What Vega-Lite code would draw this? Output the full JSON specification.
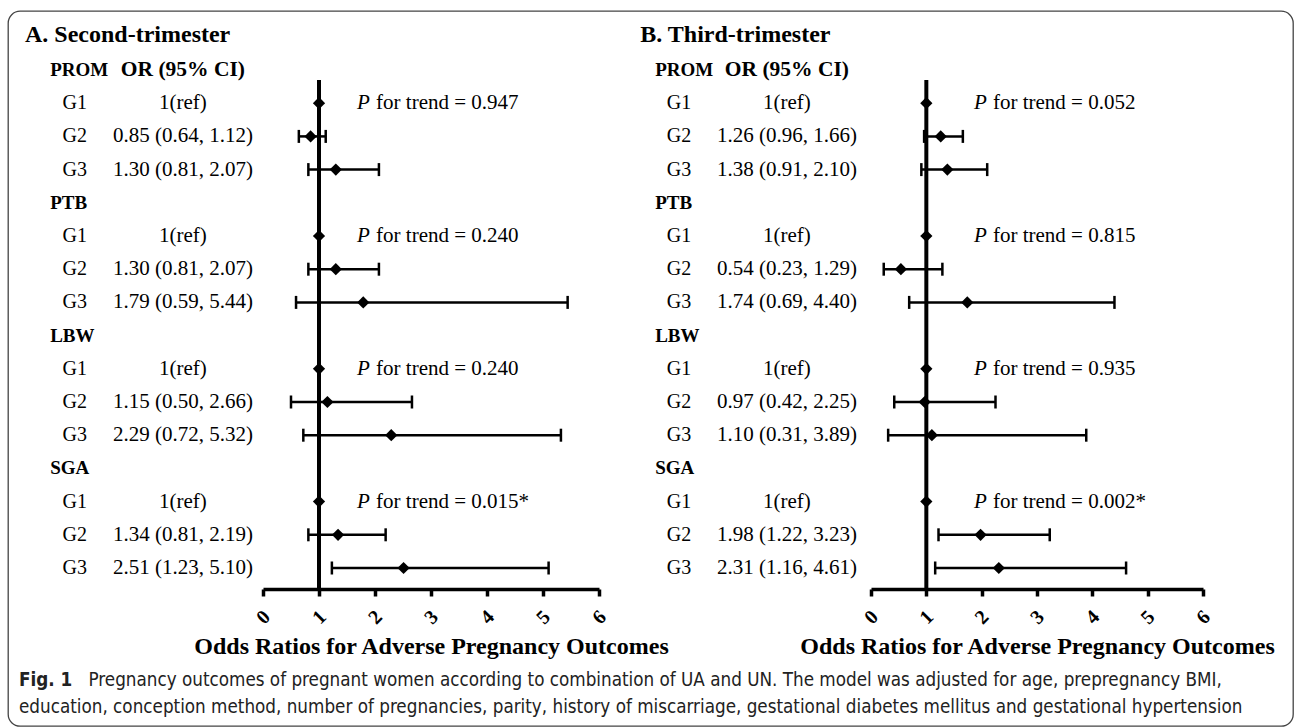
{
  "$schema": "https://vega.github.io/schema/vega-lite/v6.json",
  "width": 1295,
  "height": 728,
  "autosize": {"type": "fit", "contains": "padding"},
  "padding": {"left": 8, "top": 11, "right": 2, "bottom": 2},
  "background": "white",
  "config": {
    "view": {"stroke": "#444", "strokeWidth": 1.3, "cornerRadius": 12},
    "text": {"font": "Liberation Serif", "color": "#000"}
  },
  "title": {
    "text": "Fig. 1",
    "subtitle": "education, conception method, number of pregnancies, parity, history of miscarriage, gestational diabetes mellitus and gestational hypertension",
    "orient": "bottom",
    "anchor": "start",
    "frame": "group",
    "offset": -55,
    "dx": 11,
    "font": "DejaVu Sans Condensed, Roboto, sans-serif",
    "fontSize": 18.7,
    "fontWeight": "bold",
    "color": "#222",
    "subtitleFont": "DejaVu Sans Condensed, Roboto, sans-serif",
    "subtitleFontSize": 18.7,
    "subtitleColor": "#222",
    "subtitlePadding": 8
  },
  "datasets": {
    "est": [
      {"panel": "A", "outcome": "PROM", "group": "G1", "row": 1, "or": 1, "lo": null, "hi": null, "ci": "1(ref)", "ptext": "for trend = 0.947"},
      {"panel": "A", "outcome": "PROM", "group": "G2", "row": 2, "or": 0.85, "lo": 0.64, "hi": 1.12, "ci": "0.85 (0.64, 1.12)", "ptext": null},
      {"panel": "A", "outcome": "PROM", "group": "G3", "row": 3, "or": 1.30, "lo": 0.81, "hi": 2.07, "ci": "1.30 (0.81, 2.07)", "ptext": null},
      {"panel": "A", "outcome": "PTB", "group": "G1", "row": 5, "or": 1, "lo": null, "hi": null, "ci": "1(ref)", "ptext": "for trend = 0.240"},
      {"panel": "A", "outcome": "PTB", "group": "G2", "row": 6, "or": 1.30, "lo": 0.81, "hi": 2.07, "ci": "1.30 (0.81, 2.07)", "ptext": null},
      {"panel": "A", "outcome": "PTB", "group": "G3", "row": 7, "or": 1.79, "lo": 0.59, "hi": 5.44, "ci": "1.79 (0.59, 5.44)", "ptext": null},
      {"panel": "A", "outcome": "LBW", "group": "G1", "row": 9, "or": 1, "lo": null, "hi": null, "ci": "1(ref)", "ptext": "for trend = 0.240"},
      {"panel": "A", "outcome": "LBW", "group": "G2", "row": 10, "or": 1.15, "lo": 0.50, "hi": 2.66, "ci": "1.15 (0.50, 2.66)", "ptext": null},
      {"panel": "A", "outcome": "LBW", "group": "G3", "row": 11, "or": 2.29, "lo": 0.72, "hi": 5.32, "ci": "2.29 (0.72, 5.32)", "ptext": null},
      {"panel": "A", "outcome": "SGA", "group": "G1", "row": 13, "or": 1, "lo": null, "hi": null, "ci": "1(ref)", "ptext": "for trend = 0.015*"},
      {"panel": "A", "outcome": "SGA", "group": "G2", "row": 14, "or": 1.34, "lo": 0.81, "hi": 2.19, "ci": "1.34 (0.81, 2.19)", "ptext": null},
      {"panel": "A", "outcome": "SGA", "group": "G3", "row": 15, "or": 2.51, "lo": 1.23, "hi": 5.10, "ci": "2.51 (1.23, 5.10)", "ptext": null},
      {"panel": "B", "outcome": "PROM", "group": "G1", "row": 1, "or": 1, "lo": null, "hi": null, "ci": "1(ref)", "ptext": "for trend = 0.052"},
      {"panel": "B", "outcome": "PROM", "group": "G2", "row": 2, "or": 1.26, "lo": 0.96, "hi": 1.66, "ci": "1.26 (0.96, 1.66)", "ptext": null},
      {"panel": "B", "outcome": "PROM", "group": "G3", "row": 3, "or": 1.38, "lo": 0.91, "hi": 2.10, "ci": "1.38 (0.91, 2.10)", "ptext": null},
      {"panel": "B", "outcome": "PTB", "group": "G1", "row": 5, "or": 1, "lo": null, "hi": null, "ci": "1(ref)", "ptext": "for trend = 0.815"},
      {"panel": "B", "outcome": "PTB", "group": "G2", "row": 6, "or": 0.54, "lo": 0.23, "hi": 1.29, "ci": "0.54 (0.23, 1.29)", "ptext": null},
      {"panel": "B", "outcome": "PTB", "group": "G3", "row": 7, "or": 1.74, "lo": 0.69, "hi": 4.40, "ci": "1.74 (0.69, 4.40)", "ptext": null},
      {"panel": "B", "outcome": "LBW", "group": "G1", "row": 9, "or": 1, "lo": null, "hi": null, "ci": "1(ref)", "ptext": "for trend = 0.935"},
      {"panel": "B", "outcome": "LBW", "group": "G2", "row": 10, "or": 0.97, "lo": 0.42, "hi": 2.25, "ci": "0.97 (0.42, 2.25)", "ptext": null},
      {"panel": "B", "outcome": "LBW", "group": "G3", "row": 11, "or": 1.10, "lo": 0.31, "hi": 3.89, "ci": "1.10 (0.31, 3.89)", "ptext": null},
      {"panel": "B", "outcome": "SGA", "group": "G1", "row": 13, "or": 1, "lo": null, "hi": null, "ci": "1(ref)", "ptext": "for trend = 0.002*"},
      {"panel": "B", "outcome": "SGA", "group": "G2", "row": 14, "or": 1.98, "lo": 1.22, "hi": 3.23, "ci": "1.98 (1.22, 3.23)", "ptext": null},
      {"panel": "B", "outcome": "SGA", "group": "G3", "row": 15, "or": 2.31, "lo": 1.16, "hi": 4.61, "ci": "2.31 (1.16, 4.61)", "ptext": null}
    ],
    "hdr": [
      {"panel": "A", "outcome": "PROM", "row": 0, "colhdr": "OR (95% CI)"},
      {"panel": "A", "outcome": "PTB", "row": 4, "colhdr": ""},
      {"panel": "A", "outcome": "LBW", "row": 8, "colhdr": ""},
      {"panel": "A", "outcome": "SGA", "row": 12, "colhdr": ""},
      {"panel": "B", "outcome": "PROM", "row": 0, "colhdr": "OR (95% CI)"},
      {"panel": "B", "outcome": "PTB", "row": 4, "colhdr": ""},
      {"panel": "B", "outcome": "LBW", "row": 8, "colhdr": ""},
      {"panel": "B", "outcome": "SGA", "row": 12, "colhdr": ""}
    ],
    "panels": [
      {"panel": "A", "title": "A. Second-trimester", "ref": 1},
      {"panel": "B", "title": "B. Third-trimester", "ref": 1}
    ]
  },
  "resolve": {"scale": {"x": "independent"}, "axis": {"x": "independent"}},
  "layer": [
    {
      "layer": [
        {
          "data": {"name": "panels"},
          "transform": [{"filter": "datum.panel === 'A'"}],
          "mark": {"type": "rule", "strokeWidth": 4, "color": "#000"},
          "encoding": {
            "x": {"field": "ref", "type": "quantitative",
              "scale": {"domain": [0, 6], "range": [255, 591], "nice": false, "zero": false},
              "axis": {"values": [0, 1, 2, 3, 4, 5, 6], "format": "d", "orient": "bottom", "offset": -137, "grid": false,
                "domainColor": "#000", "domainWidth": 3.5, "tickColor": "#000", "tickWidth": 3.5, "tickSize": 7,
                "labelFont": "Liberation Serif", "labelFontWeight": "bold", "labelFontSize": 20, "labelColor": "#000",
                "labelAngle": -45, "labelAlign": "center", "labelBaseline": "middle", "labelPadding": 21, "labelFlush": false, "labelOverlap": false,
                "title": "Odds Ratios for Adverse Pregnancy Outcomes", "titleFont": "Liberation Serif", "titleFontSize": 24, "titleFontWeight": "bold", "titleColor": "#000",
                "titleY": 64, "titleBaseline": "alphabetic"}},
            "y": {"datum": 0.3, "type": "quantitative",
              "scale": {"domain": [0, 15], "range": [59, 557], "nice": false, "zero": false},
              "axis": {"orient": "left", "labels": false, "ticks": false, "domain": false, "grid": false,
                "title": "Pregnancy outcomes of pregnant women according to combination of UA and UN. The model was adjusted for age, prepregnancy BMI,",
                "titleAngle": 0, "titleAlign": "left", "titleBaseline": "alphabetic", "titleX": 80, "titleY": 674,
                "titleFont": "DejaVu Sans Condensed, Roboto, sans-serif", "titleFontSize": 18.7, "titleFontWeight": "normal", "titleColor": "#222"}},
            "y2": {"datum": 15.63}
          }
        },
        {
          "data": {"name": "est"},
          "transform": [{"filter": "datum.panel === 'A' && datum.lo != null"}],
          "mark": {"type": "rule", "strokeWidth": 2.5, "color": "#000"},
          "encoding": {"x": {"field": "lo", "type": "quantitative"}, "x2": {"field": "hi"}, "y": {"field": "row", "type": "quantitative"}}
        },
        {
          "data": {"name": "est"},
          "transform": [{"filter": "datum.panel === 'A' && datum.lo != null"}],
          "mark": {"type": "tick", "orient": "vertical", "size": 13, "thickness": 2.5, "color": "#000", "opacity": 1},
          "encoding": {"x": {"field": "lo", "type": "quantitative"}, "y": {"field": "row", "type": "quantitative"}}
        },
        {
          "data": {"name": "est"},
          "transform": [{"filter": "datum.panel === 'A' && datum.lo != null"}],
          "mark": {"type": "tick", "orient": "vertical", "size": 13, "thickness": 2.5, "color": "#000", "opacity": 1},
          "encoding": {"x": {"field": "hi", "type": "quantitative"}, "y": {"field": "row", "type": "quantitative"}}
        },
        {
          "data": {"name": "est"},
          "transform": [{"filter": "datum.panel === 'A'"}],
          "mark": {"type": "point", "shape": "diamond", "filled": true, "size": 150, "color": "#000", "opacity": 1},
          "encoding": {"x": {"field": "or", "type": "quantitative"}, "y": {"field": "row", "type": "quantitative"}}
        },
        {
          "data": {"name": "est"},
          "transform": [{"filter": "datum.panel === 'A'"}],
          "mark": {"type": "text", "fontSize": 20, "align": "center", "baseline": "middle"},
          "encoding": {"x": {"datum": -3.36, "type": "quantitative"}, "y": {"field": "row", "type": "quantitative"}, "text": {"field": "group"}}
        },
        {
          "data": {"name": "est"},
          "transform": [{"filter": "datum.panel === 'A'"}],
          "mark": {"type": "text", "fontSize": 21, "align": "center", "baseline": "middle"},
          "encoding": {"x": {"datum": -1.43, "type": "quantitative"}, "y": {"field": "row", "type": "quantitative"}, "text": {"field": "ci"}}
        },
        {
          "data": {"name": "est"},
          "transform": [{"filter": "datum.panel === 'A' && datum.ptext != null"}],
          "mark": {"type": "text", "fontSize": 21, "align": "left", "baseline": "middle", "fontStyle": "italic", "text": "P"},
          "encoding": {"x": {"datum": 1.68, "type": "quantitative"}, "y": {"field": "row", "type": "quantitative"}}
        },
        {
          "data": {"name": "est"},
          "transform": [{"filter": "datum.panel === 'A' && datum.ptext != null"}],
          "mark": {"type": "text", "fontSize": 21, "align": "left", "baseline": "middle", "dx": 19},
          "encoding": {"x": {"datum": 1.68, "type": "quantitative"}, "y": {"field": "row", "type": "quantitative"}, "text": {"field": "ptext"}}
        },
        {
          "data": {"name": "hdr"},
          "transform": [{"filter": "datum.panel === 'A'"}],
          "mark": {"type": "text", "fontSize": 19, "fontWeight": "bold", "align": "left", "baseline": "middle"},
          "encoding": {"x": {"datum": -3.8, "type": "quantitative"}, "y": {"field": "row", "type": "quantitative"}, "text": {"field": "outcome"}}
        },
        {
          "data": {"name": "hdr"},
          "transform": [{"filter": "datum.panel === 'A'"}],
          "mark": {"type": "text", "fontSize": 21.5, "fontWeight": "bold", "align": "center", "baseline": "middle"},
          "encoding": {"x": {"datum": -1.43, "type": "quantitative"}, "y": {"field": "row", "type": "quantitative"}, "text": {"field": "colhdr"}}
        },
        {
          "data": {"name": "panels"},
          "transform": [{"filter": "datum.panel === 'A'"}],
          "mark": {"type": "text", "fontSize": 24, "fontWeight": "bold", "align": "left", "baseline": "middle"},
          "encoding": {"x": {"datum": -4.25, "type": "quantitative"}, "y": {"datum": -1.05, "type": "quantitative"}, "text": {"field": "title"}}
        }
      ]
    },
    {
      "layer": [
        {
          "data": {"name": "panels"},
          "transform": [{"filter": "datum.panel === 'B'"}],
          "mark": {"type": "rule", "strokeWidth": 4, "color": "#000"},
          "encoding": {
            "x": {"field": "ref", "type": "quantitative",
              "scale": {"domain": [0, 6], "range": [863, 1195], "nice": false, "zero": false},
              "axis": {"values": [0, 1, 2, 3, 4, 5, 6], "format": "d", "orient": "bottom", "offset": -137, "grid": false,
                "domainColor": "#000", "domainWidth": 3.5, "tickColor": "#000", "tickWidth": 3.5, "tickSize": 7,
                "labelFont": "Liberation Serif", "labelFontWeight": "bold", "labelFontSize": 20, "labelColor": "#000",
                "labelAngle": -45, "labelAlign": "center", "labelBaseline": "middle", "labelPadding": 21, "labelFlush": false, "labelOverlap": false,
                "title": "Odds Ratios for Adverse Pregnancy Outcomes", "titleFont": "Liberation Serif", "titleFontSize": 24, "titleFontWeight": "bold", "titleColor": "#000",
                "titleY": 64, "titleBaseline": "alphabetic"}},
            "y": {"datum": 0.3, "type": "quantitative"},
            "y2": {"datum": 15.63}
          }
        },
        {
          "data": {"name": "est"},
          "transform": [{"filter": "datum.panel === 'B' && datum.lo != null"}],
          "mark": {"type": "rule", "strokeWidth": 2.5, "color": "#000"},
          "encoding": {"x": {"field": "lo", "type": "quantitative"}, "x2": {"field": "hi"}, "y": {"field": "row", "type": "quantitative"}}
        },
        {
          "data": {"name": "est"},
          "transform": [{"filter": "datum.panel === 'B' && datum.lo != null"}],
          "mark": {"type": "tick", "orient": "vertical", "size": 13, "thickness": 2.5, "color": "#000", "opacity": 1},
          "encoding": {"x": {"field": "lo", "type": "quantitative"}, "y": {"field": "row", "type": "quantitative"}}
        },
        {
          "data": {"name": "est"},
          "transform": [{"filter": "datum.panel === 'B' && datum.lo != null"}],
          "mark": {"type": "tick", "orient": "vertical", "size": 13, "thickness": 2.5, "color": "#000", "opacity": 1},
          "encoding": {"x": {"field": "hi", "type": "quantitative"}, "y": {"field": "row", "type": "quantitative"}}
        },
        {
          "data": {"name": "est"},
          "transform": [{"filter": "datum.panel === 'B'"}],
          "mark": {"type": "point", "shape": "diamond", "filled": true, "size": 150, "color": "#000", "opacity": 1},
          "encoding": {"x": {"field": "or", "type": "quantitative"}, "y": {"field": "row", "type": "quantitative"}}
        },
        {
          "data": {"name": "est"},
          "transform": [{"filter": "datum.panel === 'B'"}],
          "mark": {"type": "text", "fontSize": 20, "align": "center", "baseline": "middle"},
          "encoding": {"x": {"datum": -3.47, "type": "quantitative"}, "y": {"field": "row", "type": "quantitative"}, "text": {"field": "group"}}
        },
        {
          "data": {"name": "est"},
          "transform": [{"filter": "datum.panel === 'B'"}],
          "mark": {"type": "text", "fontSize": 21, "align": "center", "baseline": "middle"},
          "encoding": {"x": {"datum": -1.52, "type": "quantitative"}, "y": {"field": "row", "type": "quantitative"}, "text": {"field": "ci"}}
        },
        {
          "data": {"name": "est"},
          "transform": [{"filter": "datum.panel === 'B' && datum.ptext != null"}],
          "mark": {"type": "text", "fontSize": 21, "align": "left", "baseline": "middle", "fontStyle": "italic", "text": "P"},
          "encoding": {"x": {"datum": 1.86, "type": "quantitative"}, "y": {"field": "row", "type": "quantitative"}}
        },
        {
          "data": {"name": "est"},
          "transform": [{"filter": "datum.panel === 'B' && datum.ptext != null"}],
          "mark": {"type": "text", "fontSize": 21, "align": "left", "baseline": "middle", "dx": 19},
          "encoding": {"x": {"datum": 1.86, "type": "quantitative"}, "y": {"field": "row", "type": "quantitative"}, "text": {"field": "ptext"}}
        },
        {
          "data": {"name": "hdr"},
          "transform": [{"filter": "datum.panel === 'B'"}],
          "mark": {"type": "text", "fontSize": 19, "fontWeight": "bold", "align": "left", "baseline": "middle"},
          "encoding": {"x": {"datum": -3.9, "type": "quantitative"}, "y": {"field": "row", "type": "quantitative"}, "text": {"field": "outcome"}}
        },
        {
          "data": {"name": "hdr"},
          "transform": [{"filter": "datum.panel === 'B'"}],
          "mark": {"type": "text", "fontSize": 21.5, "fontWeight": "bold", "align": "center", "baseline": "middle"},
          "encoding": {"x": {"datum": -1.52, "type": "quantitative"}, "y": {"field": "row", "type": "quantitative"}, "text": {"field": "colhdr"}}
        },
        {
          "data": {"name": "panels"},
          "transform": [{"filter": "datum.panel === 'B'"}],
          "mark": {"type": "text", "fontSize": 24, "fontWeight": "bold", "align": "left", "baseline": "middle"},
          "encoding": {"x": {"datum": -4.17, "type": "quantitative"}, "y": {"datum": -1.05, "type": "quantitative"}, "text": {"field": "title"}}
        }
      ]
    }
  ]
}
